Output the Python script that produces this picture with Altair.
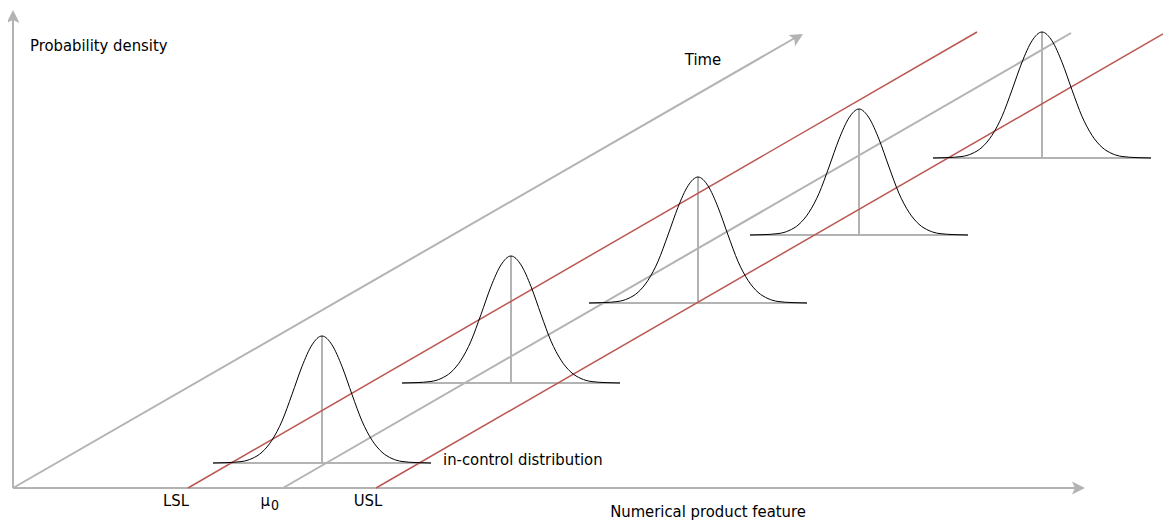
import altair as alt
import pandas as pd

# ---- diagram data (units: px-like diagram coordinates, origin at axes origin) ----
# axes and time arrow end points
axis_x_end = [1068, 0]
axis_y_end = [0, 474]
time_end = [787, 453]

# specification / mean lines (start on feature axis, end upper right)
spec_names = ["LSL", "mu0", "USL"]
spec_x0 = [175, 270, 363]
spec_x1 = [964, 1058, 1150]
spec_y1 = [456, 455, 454]

# bell-curve profile (offset from mean, relative height)
bell_offsets = [-109, -95, -80, -70, -60, -50, -40, -30, -20, -10, 0,
                10, 20, 30, 40, 50, 60, 70, 80, 95, 109]
bell_shape = [0.0, 0.003, 0.012, 0.035, 0.085, 0.18, 0.33, 0.54, 0.76, 0.93, 1.0,
              0.93, 0.76, 0.54, 0.33, 0.18, 0.085, 0.035, 0.012, 0.003, 0.0]

# five distributions along the time axis
curve_center = [309, 498, 685, 846, 1029]
curve_base = [25, 105, 185, 253, 330]
curve_height = [127, 127, 126, 126, 126]
curve_halfwidth = 109

GREY = "#b3b3b3"
RED = "#bb5853"
FONT = "DejaVu Sans Condensed"

xs = alt.Scale(domain=[-5, 1150], nice=False, zero=False)
ys = alt.Scale(domain=[-32, 480], nice=False, zero=False)

X = alt.X("x:Q", scale=xs, axis=None)
Y = alt.Y("y:Q", scale=ys, axis=None)

# grey straight segments: axes, time arrow, mu0 line, baselines, mean verticals
grey_rows = [
    dict(x=0, y=0, x2=axis_x_end[0], y2=axis_x_end[1]),
    dict(x=0, y=0, x2=axis_y_end[0], y2=axis_y_end[1]),
    dict(x=0, y=0, x2=time_end[0], y2=time_end[1]),
    dict(x=spec_x0[1], y=0, x2=spec_x1[1], y2=spec_y1[1]),
]
for c, b, h in zip(curve_center, curve_base, curve_height):
    grey_rows.append(dict(x=c - curve_halfwidth, y=b, x2=c + curve_halfwidth, y2=b))
    grey_rows.append(dict(x=c, y=b, x2=c, y2=b + h))
grey_df = pd.DataFrame(grey_rows)

red_df = pd.DataFrame([
    dict(x=spec_x0[0], y=0, x2=spec_x1[0], y2=spec_y1[0]),
    dict(x=spec_x0[2], y=0, x2=spec_x1[2], y2=spec_y1[2]),
])

curve_rows = []
for i, (c, b, h) in enumerate(zip(curve_center, curve_base, curve_height)):
    for k, (o, s) in enumerate(zip(bell_offsets, bell_shape)):
        curve_rows.append(dict(curve=i, k=k, x=c + o, y=b + s * h))
curve_df = pd.DataFrame(curve_rows)

arrow_df = pd.DataFrame([
    dict(x=1065.5, y=0, a=0),
    dict(x=0, y=471.5, a=270),
    dict(x=784.4, y=450.7, a=330),
])

grey_lines = alt.Chart(grey_df).mark_rule(color=GREY, strokeWidth=2).encode(
    x=X, y=Y, x2="x2:Q", y2="y2:Q")
red_lines = alt.Chart(red_df).mark_rule(color=RED, strokeWidth=1.5).encode(
    x=X, y=Y, x2="x2:Q", y2="y2:Q")
curves = alt.Chart(curve_df).mark_line(color="black", strokeWidth=1,
                                       interpolate="monotone").encode(
    x=X, y=Y, detail="curve:N", order="k:Q")
arrows = alt.Chart(arrow_df).mark_point(
    shape="M-1,-1L1,0L-1,1L-0.55,0Z", filled=True, color=GREY, opacity=1,
    size=170, strokeWidth=0).encode(
    x=X, y=Y, angle=alt.Angle("a:Q", scale=None))

labels_df = pd.DataFrame([
    dict(x=17, y=442, t="Probability density", al="left"),
    dict(x=690, y=428, t="Time", al="center"),
    dict(x=430, y=28, t="in-control distribution", al="left"),
    dict(x=163, y=-13, t="LSL", al="center"),
    dict(x=355, y=-13, t="USL", al="center"),
    dict(x=695, y=-24, t="Numerical product feature", al="center"),
])

left_df = labels_df[labels_df.al == "left"]
center_df = labels_df[labels_df.al == "center"]
labels_left = alt.Chart(left_df).mark_text(font=FONT, fontSize=16.5, color="black",
                                           baseline="middle", align="left").encode(
    x=X, y=Y, text="t:N")
labels_center = alt.Chart(center_df).mark_text(font=FONT, fontSize=16.5, color="black",
                                               baseline="middle", align="center").encode(
    x=X, y=Y, text="t:N")

mu_df = pd.DataFrame([dict(x=257, y=-18, t="μ")])
sub_df = pd.DataFrame([dict(x=258, y=-22, t="0")])
mu_text = alt.Chart(mu_df).mark_text(font=FONT, fontSize=16.5, color="black",
                                     baseline="alphabetic", align="right").encode(
    x=X, y=Y, text="t:N")
sub_text = alt.Chart(sub_df).mark_text(font=FONT, fontSize=14, color="black",
                                       baseline="alphabetic", align="left").encode(
    x=X, y=Y, text="t:N")

chart = alt.layer(
    grey_lines, red_lines, curves, arrows, labels_left, labels_center, mu_text, sub_text
).properties(
    width=1155, height=512, background="white",
    autosize=alt.AutoSizeParams(type="none"), padding=0,
).configure_view(stroke=None)

chart.save("out.html", embed_options={"renderer": "svg", "actions": False})
